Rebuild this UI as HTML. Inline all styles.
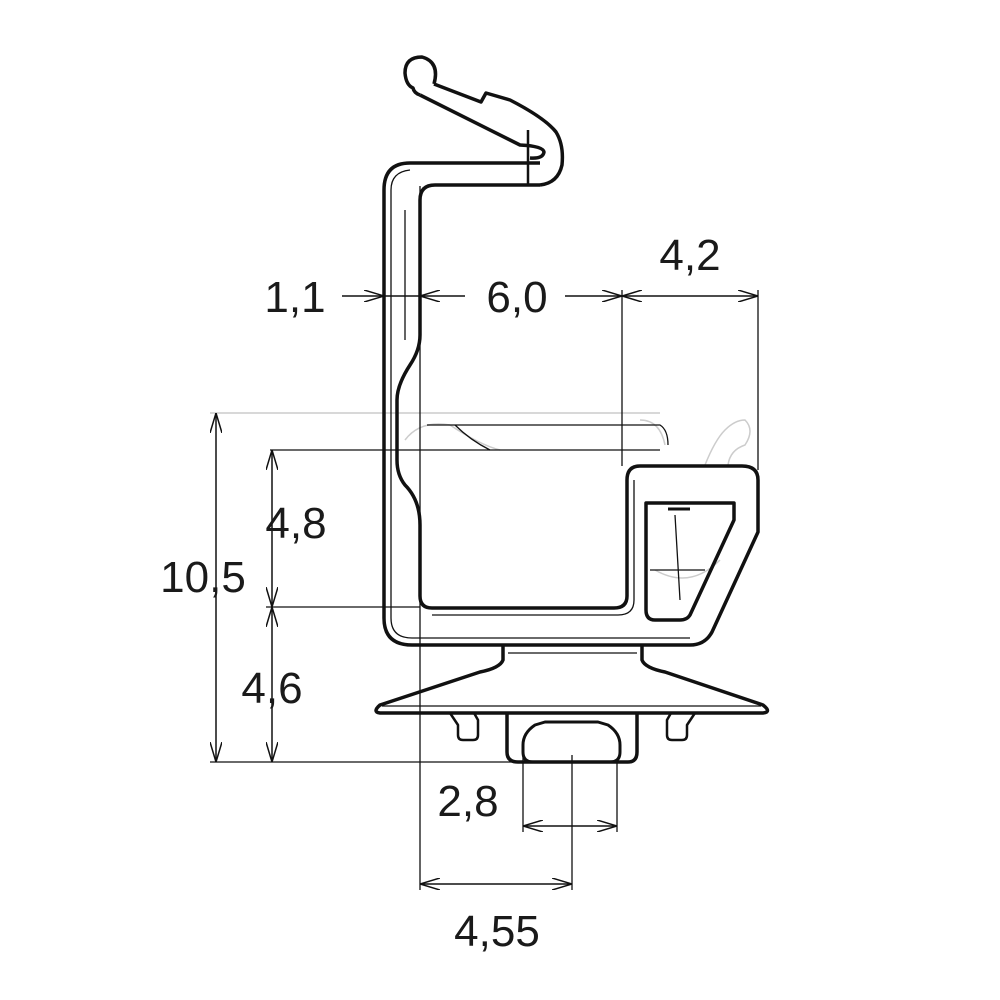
<!DOCTYPE html>
<html><head><meta charset="utf-8"><style>
html,body{margin:0;padding:0;background:#fff;}
svg{display:block}
text{font-family:"Liberation Sans",Arial,sans-serif;font-size:44px;fill:#1a1a1a;text-anchor:middle}
</style></head><body>
<svg width="1000" height="1000" viewBox="0 0 1000 1000" xmlns="http://www.w3.org/2000/svg">
<defs>
<marker id="a" viewBox="0 0 20 12" refX="20" refY="6" markerWidth="20" markerHeight="12" markerUnits="userSpaceOnUse" orient="auto-start-reverse">
<path d="M0,0 L20,6 L0,12" fill="none" stroke="#111" stroke-width="1.5"/>
</marker>
</defs>
<g fill="none" stroke="#ccc" stroke-width="1.5">
<path d="M210,413 H660"/>
<path d="M405,440 Q420,420 450,425 Q480,445 500,450"/>
<path d="M640,420 Q660,420 665,445"/>
<path d="M705,465 Q715,440 725,430 Q735,420 745,420 Q755,430 745,445 Q730,450 728,465"/>
<path d="M655,570 Q690,590 720,560"/>
</g>
<g fill="none" stroke="#111" stroke-width="3.5" stroke-linejoin="round">
<!-- hook -->
<path d="M434,84 Q440,62 422,57 Q405,57 405,73 Q406,85 413,88 Q414,93 420,95"/>
<path d="M434,84 L481,102 L486,93 L510,100 Q545,118 556,132 Q564,145 562,165 Q558,183 540,185"/>
<path d="M420,95 L520,145 Q543,146 544,152 Q543,159 530,158"/>
<path d="M528,130 V185" stroke-width="2.5"/>
<!-- main body outer -->
<path d="M540,163 H410 Q384,163 384,190 V618 Q384,645 412,645 H690 Q705,645 712,632 L758,532 V480 Q758,466 742,466 H640 Q627,466 627,480 V596 Q627,608 614,608 H432 Q420,608 420,596 V525 Q420,500 405,485 Q397,475 397,460 V400 Q397,385 410,365 Q420,350 420,335 V200 Q420,185 435,185 H540"/>
<!-- inner window -->
<path d="M646,503 H734 V520 L690,615 Q687,620 680,620 H655 Q646,620 646,610 Z"/>
<path d="M668,509 H690" stroke-width="3"/>
<!-- base -->
<path d="M503,645 V660 Q500,668 480,672 L380,705 Q372,712 380,713 H763 Q772,712 763,705 L665,672 Q645,668 642,660 V645"/>
<path d="M507,713 V752 Q507,762 518,762 H628 Q637,762 637,752 V713"/>
<path d="M523,752 V745 Q523,733 535,725 L545,722 H598 L608,725 Q620,733 620,745 V752 Q620,762 610,762 H533 Q523,762 523,752" stroke-width="3"/>
<path d="M450,713 L458,725 V735 Q458,740 463,740 H473 Q478,740 478,735 V720 L474,713" stroke-width="2.5"/>
<path d="M695,713 L687,725 V735 Q687,740 682,740 H672 Q667,740 667,735 V720 L671,713" stroke-width="2.5"/>
</g>
<g fill="none" stroke="#111" stroke-width="1.3">
<path d="M391,190 V618 Q391,638 412,638 H690"/>
<path d="M410,170 Q391,172 391,190"/>
<path d="M405,210 V340"/>
<path d="M634,480 V600 Q634,615 618,615 H432"/>
<path d="M508,653 H637"/>
<path d="M382,706 H761"/>
<path d="M427,425 H660 Q668,430 668,445"/>
<path d="M455,425 Q470,440 490,450 H660"/>
<path d="M270,450 H490"/>
<path d="M420,186 V890"/>
<path d="M266,607 H420"/>
<path d="M210,762 H520"/>
<path d="M622,290 V466"/>
<path d="M758,290 V470"/>
<path d="M523,740 V832"/>
<path d="M617,762 V832"/>
<path d="M572,755 V890"/>
<path d="M675,515 L680,600 M650,570 H705"/>
</g>
<g fill="none" stroke="#111" stroke-width="1.5">
<path d="M342,296 H384" marker-end="url(#a)"/>
<path d="M465,296 H420" marker-end="url(#a)"/>
<path d="M384,296 H420"/>
<path d="M565,296 H622" marker-end="url(#a)"/>
<path d="M622,296 H758" marker-start="url(#a)" marker-end="url(#a)"/>
<path d="M216,413 V762" marker-start="url(#a)" marker-end="url(#a)"/>
<path d="M272,450 V607" marker-start="url(#a)" marker-end="url(#a)"/>
<path d="M272,607 V762" marker-start="url(#a)" marker-end="url(#a)"/>
<path d="M523,826 H617" marker-start="url(#a)" marker-end="url(#a)"/>
<path d="M420,884 H572" marker-start="url(#a)" marker-end="url(#a)"/>
</g>
<text x="295" y="312">1,1</text>
<text x="517" y="312">6,0</text>
<text x="690" y="270">4,2</text>
<text x="203" y="592">10,5</text>
<text x="296" y="538">4,8</text>
<text x="272" y="703">4,6</text>
<text x="468" y="816">2,8</text>
<text x="497" y="946">4,55</text>
</svg>
</body></html>
